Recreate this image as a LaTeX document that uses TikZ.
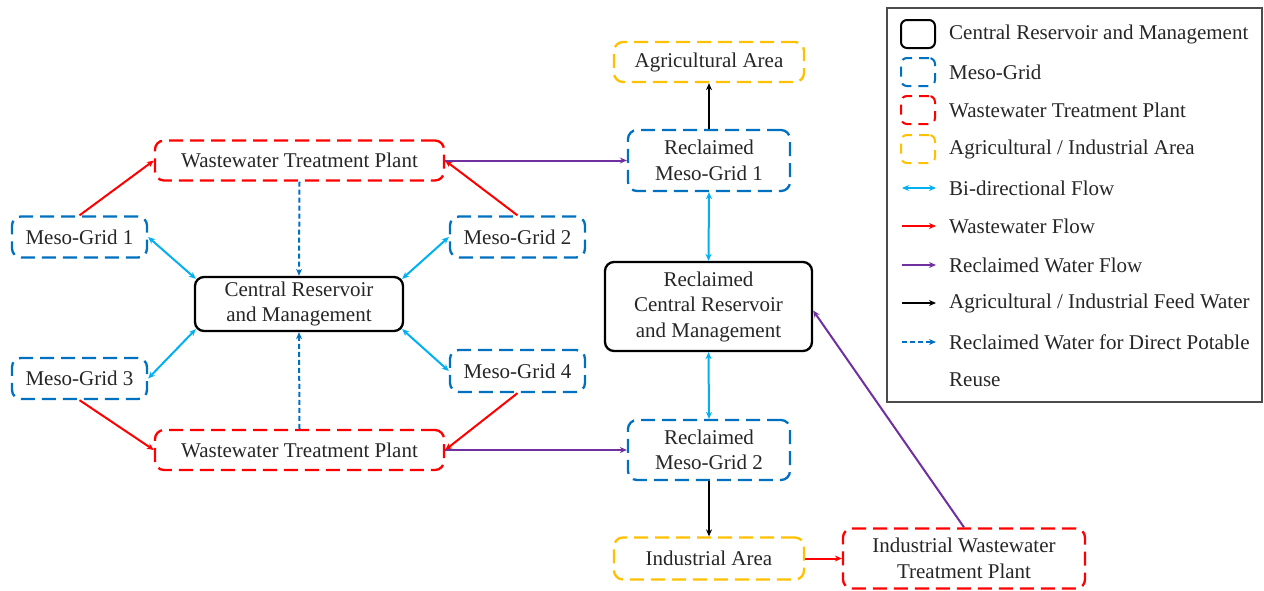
\documentclass[tikz,border=0pt]{standalone}
\usepackage{fontspec}
\setmainfont{Liberation Serif}
\usetikzlibrary{arrows.meta}
\definecolor{mblue}{RGB}{0,112,192}
\definecolor{mred}{RGB}{255,0,0}
\definecolor{morange}{RGB}{255,192,0}
\definecolor{mcyan}{RGB}{0,176,240}
\definecolor{mpurple}{RGB}{112,48,160}
\tikzset{
  x=1pt, y=1pt,
  every node/.style={font=\fontsize{21}{25.5}\selectfont, text=black!85},
  box/.style={rounded corners=9pt, line width=2.3pt, inner sep=0pt, align=center},
  dsh/.style={dash pattern=on 14pt off 7pt},
  blbox/.style={box, draw=mblue, dsh},
  rdbox/.style={box, draw=mred, dsh},
  orbox/.style={box, draw=morange, dsh},
  bkbox/.style={box, draw=black},
  tip/.style={-{Stealth[length=7pt,width=6pt]}},
  redarr/.style={tip, draw=mred, line width=2pt},
  purarr/.style={tip, draw=mpurple, line width=2pt},
  blkarr/.style={tip, draw=black, line width=2pt},
  cyarr/.style={{Stealth[length=7pt,width=6pt]}-{Stealth[length=7pt,width=6pt]}, draw=mcyan, line width=2pt},
  dbarr/.style={tip, draw=mblue, line width=2pt, dash pattern=on 5pt off 3pt},
  legtxt/.style={anchor=west, inner sep=0pt},
  legbox/.style={box, minimum width=34pt, minimum height=28pt, rounded corners=6pt, line width=2pt},
}
\begin{document}
\begin{tikzpicture}
\useasboundingbox (0,0) rectangle (1264,-590);
% main nodes
\node[orbox, minimum width=190pt, minimum height=40pt] (agri) at (709,-62) {Agricultural Area};
\node[blbox, minimum width=162pt, minimum height=61pt] (rmg1) at (709,-160.5) {Reclaimed\\Meso-Grid 1};
\node[rdbox, minimum width=289pt, minimum height=40pt] (wtp1) at (299.5,-160.5) {Wastewater Treatment Plant};
\node[blbox, minimum width=135pt, minimum height=41pt] (mg1) at (79.5,-237) {Meso-Grid 1};
\node[blbox, minimum width=135pt, minimum height=41pt] (mg2) at (517.5,-237) {Meso-Grid 2};
\node[bkbox, minimum width=208pt, minimum height=54pt] (cr) at (299,-304) {Central Reservoir\\and Management};
\node[bkbox, minimum width=207pt, minimum height=89pt] (rcr) at (708.5,-306.5) {Reclaimed\\Central Reservoir\\and Management};
\node[blbox, minimum width=135pt, minimum height=41pt] (mg3) at (79.5,-378.5) {Meso-Grid 3};
\node[blbox, minimum width=135pt, minimum height=42pt] (mg4) at (517.5,-371) {Meso-Grid 4};
\node[rdbox, minimum width=289pt, minimum height=40pt] (wtp2) at (299.5,-450) {Wastewater Treatment Plant};
\node[blbox, minimum width=162pt, minimum height=60pt] (rmg2) at (709,-450) {Reclaimed\\Meso-Grid 2};
\node[orbox, minimum width=190pt, minimum height=42pt] (ind) at (709,-558.5) {Industrial Area};
\node[rdbox, minimum width=242pt, minimum height=60pt] (iwtp) at (964,-558.5) {Industrial Wastewater\\Treatment Plant};
% connectors
\draw[redarr] (mg1.north) -- (wtp1.west);
\draw[redarr] (mg2.north) -- (wtp1.east);
\draw[redarr] (mg3.south) -- (wtp2.west);
\draw[redarr] (mg4.south) -- (wtp2.east);
\draw[dbarr] (wtp1.south) -- (cr.north);
\draw[dbarr] (wtp2.north) -- (cr.south);
\draw[cyarr] (mg1.east) -- ([shift={(2,-3)}]cr.north west);
\draw[cyarr] (mg2.west) -- ([shift={(-2,-3)}]cr.north east);
\draw[cyarr] (mg3.east) -- ([shift={(2,3)}]cr.south west);
\draw[cyarr] (mg4.west) -- ([shift={(-2,3)}]cr.south east);
\draw[purarr] (wtp1.east) -- (rmg1.west);
\draw[purarr] (wtp2.east) -- (rmg2.west);
\draw[blkarr] (rmg1.north) -- (agri.south);
\draw[cyarr] (rmg1.south) -- (rcr.north);
\draw[cyarr] (rcr.south) -- (rmg2.north);
\draw[blkarr] (rmg2.south) -- (ind.north);
\draw[redarr] (ind.east) -- (iwtp.west);
\draw[purarr] (iwtp.north) -- ([yshift=-4pt]rcr.east);
% legend
\node[draw=black!70, line width=1.4pt, minimum width=375pt, minimum height=394pt, inner sep=0pt] (legend) at (1074.5,-205) {};
\node[legbox, draw=black] (l1) at (918,-34) {};
\node[legbox, draw=mblue, dash pattern=on 10pt off 7pt] (l2) at (918,-72) {};
\node[legbox, draw=mred, dash pattern=on 10pt off 7pt] (l3) at (918,-110) {};
\node[legbox, draw=morange, dash pattern=on 10pt off 7pt] (l4) at (918,-149) {};
\coordinate (a5s) at (902,-188); \coordinate (a5e) at (936,-188);
\coordinate (a6s) at (902,-226); \coordinate (a6e) at (936,-226);
\coordinate (a7s) at (902,-265); \coordinate (a7e) at (936,-265);
\coordinate (a8s) at (902,-303); \coordinate (a8e) at (936,-303);
\coordinate (a9s) at (902,-342); \coordinate (a9e) at (936,-342);
\draw[cyarr, line width=1.8pt] (a5s) -- (a5e);
\draw[redarr, line width=1.8pt] (a6s) -- (a6e);
\draw[purarr, line width=1.8pt] (a7s) -- (a7e);
\draw[blkarr, line width=1.8pt] (a8s) -- (a8e);
\draw[dbarr, line width=1.8pt] (a9s) -- (a9e);
\node[legtxt] (t1) at (949,-34) {Central Reservoir and Management};
\node[legtxt] (t2) at (949,-72) {Meso-Grid};
\node[legtxt] (t3) at (949,-110) {Wastewater Treatment Plant};
\node[legtxt] (t4) at (949,-149) {Agricultural / Industrial Area};
\node[legtxt] (t5) at (949,-188) {Bi-directional Flow};
\node[legtxt] (t6) at (949,-226) {Wastewater Flow};
\node[legtxt] (t7) at (949,-265) {Reclaimed Water Flow};
\node[legtxt] (t8) at (949,-303) {Agricultural / Industrial Feed Water};
\node[legtxt] (t9) at (949,-342) {Reclaimed Water for Direct Potable};
\node[legtxt] (t10) at (949,-380) {Reuse};
\end{tikzpicture}
\end{document}
